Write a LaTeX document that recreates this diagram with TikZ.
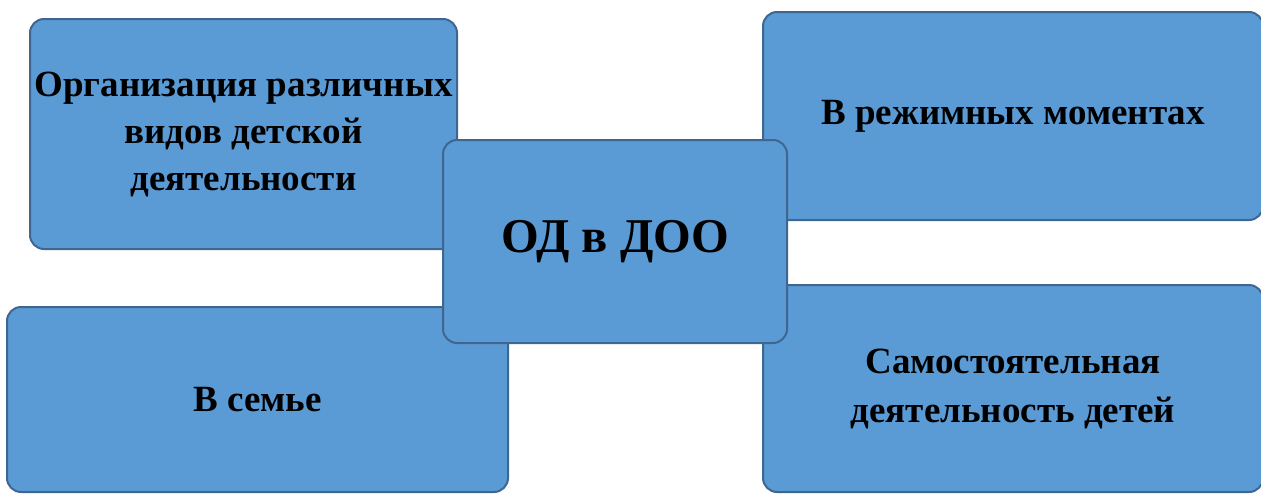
\documentclass[tikz,border=0pt]{standalone}
\usepackage{fontspec}
\setmainfont{Liberation Serif}
\definecolor{boxfill}{HTML}{5B9BD5}
\definecolor{boxline}{HTML}{3E6690}
\begin{document}
\begin{tikzpicture}[x=1pt,y=-1pt,
  bluebox/.style={draw=boxline, line width=2pt, fill=boxfill, rounded corners=14pt,
    rectangle, inner sep=0pt, align=center, font=\bfseries\fontsize{37}{47}\selectfont}]
\useasboundingbox (0,0) rectangle (1261,493);
\clip (0,0) rectangle (1261,493);
\node[bluebox, minimum width=427pt, minimum height=230pt] (org) at (243.5,134) {Организация различных\\видов детской\\деятельности};
\node[bluebox, minimum width=500pt, minimum height=208pt] (rezh) at (1013,116) {\raisebox{-2pt}{В режимных моментах}};
\node[bluebox, minimum width=501pt, minimum height=185pt] (sem) at (257.5,399.5) {В семье};
\node[bluebox, minimum width=500pt, minimum height=207pt, font=\bfseries\fontsize{37}{49}\selectfont] (sam) at (1013,388.5) {Самостоятельная\\деятельность детей};
\node[bluebox, minimum width=344pt, minimum height=203pt, font=\bfseries\fontsize{48.5}{56}\selectfont] (od) at (615,241.5) {ОД в ДОО};
\end{tikzpicture}
\end{document}
